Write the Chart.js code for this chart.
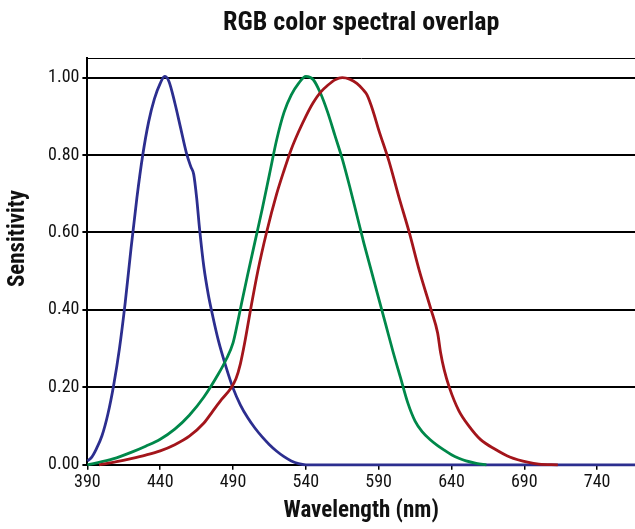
<!DOCTYPE html>
<html>
<head>
<meta charset="utf-8">
<script src="https://cdn.jsdelivr.net/npm/chart.js@4/dist/chart.umd.min.js"></script>
<style>
    body { margin: 0; background: #ffffff; }
    #caixa { width: 635px; height: 529px; }
</style>
</head>
<body>
<div id="caixa"><canvas id="grafico" width="635" height="529"></canvas></div>
<script>

// valores (comprimento de onda em nm, sensibilidade 0..1)
const comprimentoAzul = [390, 393, 396, 400, 404, 408, 412, 416, 420, 424, 428, 432, 436, 440, 443, 446, 450, 454, 458, 461, 463, 465, 467, 470, 473, 476, 480, 485, 490, 495, 500, 505, 510, 515, 520, 525, 530, 535, 540, 600, 700, 766];
const sensibilidadeAzul = [0.01, 0.02, 0.04, 0.075, 0.13, 0.205, 0.30, 0.42, 0.56, 0.69, 0.80, 0.885, 0.945, 0.985, 1.003, 0.99, 0.935, 0.87, 0.805, 0.77, 0.75, 0.69, 0.61, 0.51, 0.44, 0.385, 0.32, 0.255, 0.198, 0.155, 0.122, 0.095, 0.072, 0.052, 0.035, 0.021, 0.01, 0.003, 0, 0, 0, 0];

const comprimentoVerde = [390, 400, 410, 420, 430, 440, 450, 460, 470, 480, 485, 490, 493, 496, 500, 505, 510, 515, 520, 525, 530, 535, 540, 545, 550, 555, 560, 565, 570, 575, 580, 585, 590, 595, 600, 605, 610, 615, 620, 625, 630, 635, 640, 645, 650, 657, 664];
const sensibilidadeVerde = [0, 0.008, 0.018, 0.032, 0.048, 0.066, 0.092, 0.128, 0.175, 0.235, 0.27, 0.315, 0.365, 0.42, 0.49, 0.575, 0.66, 0.75, 0.84, 0.91, 0.955, 0.985, 1.003, 0.995, 0.96, 0.91, 0.85, 0.79, 0.72, 0.645, 0.57, 0.50, 0.43, 0.36, 0.29, 0.225, 0.16, 0.113, 0.085, 0.066, 0.051, 0.038, 0.026, 0.017, 0.01, 0.004, 0];

const comprimentoVermelho = [398, 410, 420, 430, 440, 450, 460, 470, 476, 482, 488, 492, 495, 498, 502, 507, 513, 520, 525, 530, 535, 540, 545, 550, 555, 560, 565, 570, 575, 579, 582, 586, 590, 597, 604, 611, 618, 626, 630.5, 632.5, 635, 638.5, 645, 652, 660, 670, 680, 693, 700, 713];
const sensibilidadeVermelho = [0, 0.008, 0.016, 0.025, 0.036, 0.052, 0.074, 0.108, 0.138, 0.168, 0.195, 0.222, 0.26, 0.315, 0.40, 0.50, 0.60, 0.70, 0.76, 0.815, 0.86, 0.90, 0.935, 0.962, 0.98, 0.994, 1.0, 0.996, 0.985, 0.97, 0.955, 0.915, 0.865, 0.785, 0.69, 0.60, 0.50, 0.40, 0.34, 0.29, 0.245, 0.20, 0.14, 0.10, 0.065, 0.04, 0.02, 0.006, 0.002, 0];

const ticksX = [390, 440, 490, 540, 590, 640, 690, 740];
const ticksY = [0, 0.2, 0.4, 0.6, 0.8, 1.0];

const fonte = "'Liberation Sans Narrow', 'Roboto Condensed', 'DejaVu Sans Condensed', Roboto, sans-serif";

window.onload = () => {
    plotarGrafico();
}

function montarPontos(xs, ys) {
    var pontos = []
    for (var i = 0; i < xs.length; i++) {
        pontos.push({ x: xs[i], y: ys[i] });
    }
    return pontos
}

function serie(rotulo, pontos, cor) {
    return {
        label: rotulo,
        data: pontos,
        borderColor: cor,
        backgroundColor: cor,
        borderWidth: 2.8,
        pointRadius: 0,
        cubicInterpolationMode: 'monotone',
        clip: 6
    }
}

// o titulo do eixo y fica um pouco acima do centro na figura original
const tituloEixoY = {
    id: 'tituloEixoY',
    afterDraw(chart) {
        var ctx = chart.ctx
        var area = chart.chartArea
        ctx.save()
        ctx.translate(18, (area.top + area.bottom) / 2 - 23)
        ctx.rotate(-Math.PI / 2)
        ctx.fillStyle = '#111111'
        ctx.font = "bold 23px " + fonte
        ctx.textAlign = 'center'
        ctx.textBaseline = 'middle'
        ctx.fillText('Sensitivity', 0, 0)
        ctx.restore()
    }
}

function plotarGrafico() {

    let Grafico = new Chart(
        document.getElementById(`grafico`), {
        type: 'line',
        data: {
            datasets: [
                // o primeiro dataset fica por cima
                serie('R', montarPontos(comprimentoVermelho, sensibilidadeVermelho), '#a3151b'),
                serie('G', montarPontos(comprimentoVerde, sensibilidadeVerde), '#00884a'),
                serie('B', montarPontos(comprimentoAzul, sensibilidadeAzul), '#2c2e8f')
            ]
        },
        options: {
            responsive: false,
            animation: false,
            layout: {
                padding: { left: 45, right: 0, top: 0, bottom: 4 }
            },
            scales: {
                x: {
                    type: 'linear',
                    min: 390,
                    max: 766,
                    afterBuildTicks: (eixo) => { eixo.ticks = ticksX.map(v => ({ value: v })) },
                    border: { display: true, color: '#000000', width: 2 },
                    grid: { drawOnChartArea: false, drawTicks: true, tickLength: 5, color: '#000000', lineWidth: 1.5 },
                    ticks: {
                        color: '#111111',
                        padding: 2,
                        maxRotation: 0,
                        font: { family: fonte, size: 18 }
                    },
                    title: {
                        display: true,
                        text: 'Wavelength (nm)',
                        color: '#111111',
                        padding: { top: 2, bottom: 0 },
                        font: { family: fonte, size: 23, weight: 'bold' }
                    }
                },
                topo: {
                    type: 'linear',
                    position: 'top',
                    min: 390,
                    max: 766,
                    border: { display: true, color: '#000000', width: 1 },
                    grid: { display: false, drawTicks: false },
                    ticks: { display: false }
                },
                y: {
                    min: 0,
                    max: 1.05,
                    afterBuildTicks: (eixo) => { eixo.ticks = ticksY.map(v => ({ value: v })) },
                    border: { display: true, color: '#000000', width: 2 },
                    grid: { color: '#000000', lineWidth: 2, drawTicks: true, tickLength: 5 },
                    ticks: {
                        color: '#111111',
                        padding: 3,
                        font: { family: fonte, size: 18 },
                        callback: (valor) => Number(valor).toFixed(2)
                    }
                }
            },
            plugins: {
                legend: { display: false },
                tooltip: { enabled: false },
                title: {
                    display: true,
                    text: 'RGB color spectral overlap',
                    fullSize: false,
                    color: '#111111',
                    padding: { top: 8, bottom: 19 },
                    font: { family: fonte, size: 26, weight: 'bold' }
                }
            }
        },
        plugins: [tituloEixoY]
    });
}

</script>
</body>
</html>
